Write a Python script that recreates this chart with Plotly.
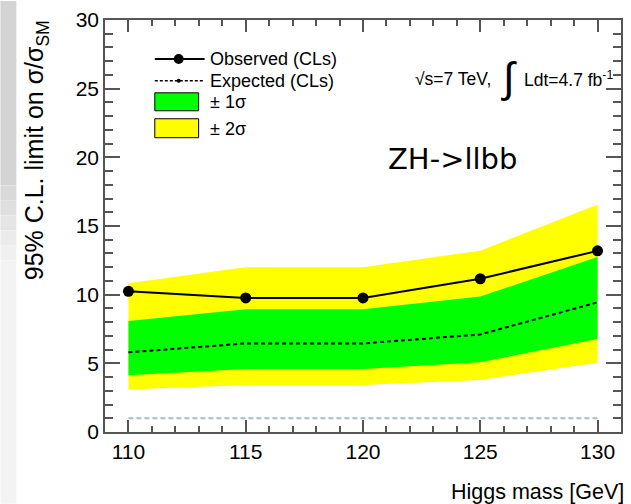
import plotly.graph_objects as go

# ---- data ----
masses = [110, 115, 120, 125, 130]
observed = [10.24, 9.76, 9.76, 11.16, 13.19]
expected = [5.80, 6.45, 6.45, 7.10, 9.44]
plus1 = [8.09, 8.94, 8.94, 9.86, 12.75]
minus1 = [4.13, 4.59, 4.59, 5.07, 6.77]
plus2 = [10.84, 12.00, 12.00, 13.20, 16.55]
minus2 = [3.09, 3.43, 3.43, 3.79, 5.05]
sm_ref = [1, 1, 1, 1, 1]
x_ticks = [110, 115, 120, 125, 130]
y_ticks = [0, 5, 10, 15, 20, 25, 30]

W, H = 631, 504
L, R, T, B = 105, 623, 19, 432
FONT = "Liberation Sans"


def px(x):
    return (x - L) / (R - L)


def py(y):
    return (B - y) / (B - T)


fig = go.Figure()

# bands
fig.add_trace(go.Scatter(x=masses + masses[::-1], y=plus2 + minus2[::-1],
                         fill="toself", fillcolor="#ffff00", mode="none",
                         hoverinfo="skip", showlegend=False))
fig.add_trace(go.Scatter(x=masses + masses[::-1], y=plus1 + minus1[::-1],
                         fill="toself", fillcolor="#00ff00", mode="none",
                         hoverinfo="skip", showlegend=False))
# SM reference
fig.add_trace(go.Scatter(x=masses, y=sm_ref, mode="lines",
                         line=dict(color="#a9bac8", width=2, dash="5px,3px"),
                         showlegend=False))
# expected
fig.add_trace(go.Scatter(x=masses, y=expected, mode="lines",
                         line=dict(color="black", width=2, dash="4px,3px"),
                         showlegend=False))
# observed
fig.add_trace(go.Scatter(x=masses, y=observed, mode="lines+markers",
                         line=dict(color="black", width=2),
                         marker=dict(color="black", size=11),
                         showlegend=False))

shapes = []
# left gray strip (gradient approximated by steps)
strip = [(0, 185, "#d4d4d4"), (185, 200, "#d9d9d9"), (200, 215, "#dfdfdf"),
         (215, 230, "#e5e5e5"), (230, 245, "#ebebeb"), (245, 260, "#f0f0f0"),
         (260, 504, "#f3f3f3")]
for y0, y1, c in strip:
    shapes.append(dict(type="rect", xref="paper", yref="paper",
                       x0=px(0), x1=px(16), y0=py(y1), y1=py(y0),
                       fillcolor=c, line=dict(width=0), layer="below"))

# legend samples
shapes.append(dict(type="line", xref="paper", yref="paper",
                   x0=px(155), x1=px(205), y0=py(58), y1=py(58),
                   line=dict(color="black", width=2)))
shapes.append(dict(type="circle", xref="paper", yref="paper",
                   x0=px(174), x1=px(184), y0=py(63), y1=py(53),
                   fillcolor="black", line=dict(width=0)))
shapes.append(dict(type="line", xref="paper", yref="paper",
                   x0=px(155), x1=px(205), y0=py(80), y1=py(80),
                   line=dict(color="black", width=1.5, dash="3px,2px")))
shapes.append(dict(type="circle", xref="paper", yref="paper",
                   x0=px(177), x1=px(181), y0=py(82), y1=py(78),
                   fillcolor="black", line=dict(width=0)))
shapes.append(dict(type="rect", xref="paper", yref="paper",
                   x0=px(155), x1=px(199), y0=py(110), y1=py(92),
                   fillcolor="#00ff00", line=dict(color="black", width=1)))
shapes.append(dict(type="rect", xref="paper", yref="paper",
                   x0=px(155), x1=px(199), y0=py(137), y1=py(118),
                   fillcolor="#ffff00", line=dict(color="black", width=1)))

ann = []


def text(x, y, s, size, xanchor="left", yanchor="middle", font=FONT, angle=0):
    ann.append(dict(xref="paper", yref="paper", x=px(x), y=py(y), text=s,
                    showarrow=False, xanchor=xanchor, yanchor=yanchor,
                    textangle=angle,
                    font=dict(family=font, size=size, color="black")))


text(208, 58, "Observed (CLs)", 18)
text(208, 80, "Expected (CLs)", 18)
text(208, 101, "± 1σ", 18)
text(208, 128, "± 2σ", 18)
text(495, 78, "√s=7 TeV,", 17.5, xanchor="right")
text(511, 77, "∫", 42, xanchor="center")
text(524, 78, "Ldt=4.7 fb<sup>-1</sup>", 17.5)
text(387, 158, "ZH->llbb", 29, font="DejaVu Sans")
text(628, 492, "Higgs mass [GeV]", 21.5, xanchor="right")
text(36, 17, "95% C.L. limit on σ/σ<sub>SM</sub>", 25, xanchor="center",
     yanchor="top", angle=-90)

axis_common = dict(showgrid=False, zeroline=False, showline=True,
                   linecolor="#555555", linewidth=1.5, mirror="allticks",
                   ticks="inside", tickcolor="#555555", tickwidth=1.5,
                   tickfont=dict(family=FONT, size=21, color="black"))

fig.update_layout(
    width=W, height=H,
    margin=dict(l=L, r=W - R, t=T, b=H - B),
    paper_bgcolor="white", plot_bgcolor="white",
    shapes=shapes, annotations=ann,
    xaxis=dict(range=[109, 131], tickvals=x_ticks, ticklen=12,
               minor=dict(dtick=1, ticklen=6, ticks="inside",
                          tickcolor="#555555", tickwidth=1.5),
               **axis_common),
    yaxis=dict(range=[0, 30], tickvals=y_ticks, ticklen=15,
               minor=dict(dtick=1, ticklen=8, ticks="inside",
                          tickcolor="#555555", tickwidth=1.5),
               **axis_common),
)

fig.write_html("out.html", config={"displayModeBar": False},
               post_script="document.body.style.margin='0';"
                           "document.body.style.overflow='hidden';")
